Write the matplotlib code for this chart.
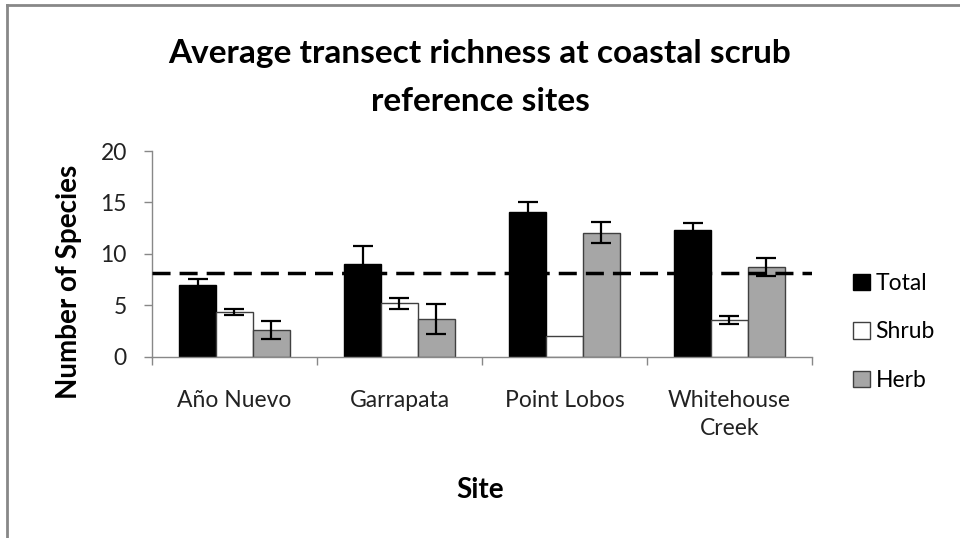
import matplotlib
matplotlib.use("Agg")
import matplotlib.pyplot as plt
import numpy as np
from matplotlib.patches import Patch
from matplotlib.lines import Line2D

sites = ["Año Nuevo", "Garrapata", "Point Lobos", "Whitehouse\nCreek"]
series = ["Total", "Shrub", "Herb"]
total = [7.0, 9.0, 14.1, 12.3]
total_err = [0.6, 1.8, 0.95, 0.7]
shrub = [4.35, 5.2, 2.0, 3.6]
shrub_err = [0.33, 0.55, 0.0, 0.4]
herb = [2.6, 3.7, 12.05, 8.7]
herb_err = [0.9, 1.45, 1.0, 0.85]
reference_line = 8.1
yticks = [0, 5, 10, 15, 20]
title_lines = ["Average transect richness at coastal scrub", "reference sites"]

plt.rcParams['font.family'] = ['Lato', 'DejaVu Sans']

fig = plt.figure(figsize=(9.6, 5.38), dpi=100)
ax = fig.add_axes([0.1583, 0.337, 0.6875, 0.3823])

x = np.arange(len(sites))
w = 0.224
vals = [total, shrub, herb]
errs = [total_err, shrub_err, herb_err]
faces = ["#000000", "#FFFFFF", "#A6A6A6"]
edges = ["#000000", "#404040", "#404040"]
for i, (v, e, fc, ec) in enumerate(zip(vals, errs, faces, edges)):
    xs = x + (i - 1) * w
    ax.bar(xs, v, width=w, color=fc, edgecolor=ec, linewidth=1.0, zorder=2)
    e = np.array(e)
    m = e > 0
    ax.errorbar(xs[m], np.array(v)[m], yerr=e[m], fmt='none', ecolor='black',
                elinewidth=1.6, capsize=7.5, capthick=1.6, zorder=4)

ax.axhline(reference_line, color='black', linestyle=(0, (5.2, 2.6)), linewidth=2.5, zorder=3)

ax.set_xlim(-0.5, len(sites) - 0.5)
ax.set_ylim(0, 20)
ax.set_yticks(yticks)
ax.set_yticklabels([str(t) for t in yticks])
ax.set_xticks(x)
ax.set_xticklabels(sites, linespacing=1.4)
ax.set_xticks(np.arange(len(sites) + 1) - 0.5, minor=True)
ax.tick_params(axis='x', which='major', length=0, pad=24, labelsize=16.5, colors='#222222')
ax.tick_params(axis='x', which='minor', length=6, width=1, color='#888888')
ax.tick_params(axis='y', length=6, width=1, color='#888888', labelsize=16.5, labelcolor='#222222', pad=12)

for s in ['top', 'right']:
    ax.spines[s].set_visible(False)
for s in ['left', 'bottom']:
    ax.spines[s].set_color('#888888')
    ax.spines[s].set_linewidth(1)

fig.text(0.072, 0.476, "Number of Species", fontsize=20, fontweight='bold',
         rotation=90, ha='center', va='center')
fig.text(0.5, 0.089, "Site", fontsize=20, fontweight='bold', ha='center', va='center')

fig.text(0.5, 1 - 63 / 538, title_lines[0], fontsize=24, fontweight='bold',
         ha='center', va='baseline')
fig.text(0.5, 1 - 111 / 538, title_lines[1], fontsize=24, fontweight='bold',
         ha='center', va='baseline')

handles = [Patch(facecolor=fc, edgecolor=ec, linewidth=1) for fc, ec in zip(faces, edges)]
leg = fig.legend(handles, series, loc='center left', bbox_to_anchor=(0.889, 0.383),
                 frameon=False, fontsize=16.5, handlelength=0.72, handleheight=0.72,
                 handletextpad=0.25, labelspacing=1.2, borderaxespad=0, borderpad=0)

# figure border (top and left)
fig.add_artist(Line2D([0.0073, 0.0073], [0, 0.991], transform=fig.transFigure, color='#888888', linewidth=2))
fig.add_artist(Line2D([0.0073, 1.0], [0.991, 0.991], transform=fig.transFigure, color='#888888', linewidth=2))

fig.savefig("out.png", dpi=100)
